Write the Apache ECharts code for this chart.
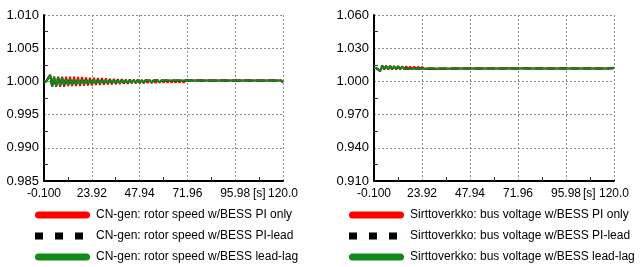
<!DOCTYPE html>
<html><head><meta charset="utf-8">
<script src="https://cdn.jsdelivr.net/npm/echarts@6/dist/echarts.min.js"></script>
<style>html,body{margin:0;padding:0;background:#fff}#c{width:642px;height:267px}</style>
</head><body><div id="c"></div>
<script>
// time samples [s]
const TIME = [-0.1,0,1,2,3,4,5,6,7,8,9,10,11,12,13,14,15,16,17,18,19,20,
21,22,23,24,25,26,27,28,29,30,31,32,33,34,35,36,37,38,39,40,
41,42,43,44,45,46,47,48,49,50,51,52,53,54,55,56,57,58,59,60,
61,62,63,64,65,66,67,68,69,70,71,72,73,74,75,76,77,78,79,80,
81,82,83,84,85,86,87,88,89,90,91,92,93,94,95,96,97,98,99,100,
101,102,103,104,105,106,107,108,109,110,111,112,113,114,115,116,117,118,119,120];

const X_TICK_LABELS = ['-0.100','23.92','47.94','71.96','95.98','120.0'];
const LEFT_Y_TICK_LABELS = ['0.985','0.990','0.995','1.000','1.005','1.010'];
const RIGHT_Y_TICK_LABELS = ['0.910','0.940','0.970','1.000','1.030','1.060'];

const LEFT_NAMES = ['CN-gen: rotor speed w/BESS PI only','CN-gen: rotor speed w/BESS PI-lead','CN-gen: rotor speed w/BESS lead-lag'];
const RIGHT_NAMES = ['Sirttoverkko: bus voltage w/BESS PI only','Sirttoverkko: bus voltage w/BESS PI-lead','Sirttoverkko: bus voltage w/BESS lead-lag'];

// Left: CN-gen rotor speed
const LEFT_PI_ONLY = [1.0000,1.0000,1.0000,1.0000,
1.0010,0.9992,1.0007,0.9992,1.0007,0.9992,1.0007,0.9992,1.0007,0.9993,1.0007,0.9993,1.0007,0.9993,1.00065,0.9993,1.00065,0.99935,
1.0006,0.9994,1.00055,0.9994,1.00055,0.99945,1.0005,0.99945,1.0005,0.9995,
1.00045,0.99955,1.0004,0.99955,1.0004,0.9996,1.00035,0.9996,1.00035,0.99965,
1.0003,0.99965,1.0003,0.9997,1.0003,0.9997,1.00025,0.9997,1.00025,0.99975,
1.00025,0.99975,1.00025,0.99975,1.0002,0.99975,1.0002,0.9998,1.0002,0.9998,
1.0002,0.9998,1.0002,0.9998,1.0002,0.9998,1.0002,0.9998,1.0002,0.9998,
1.00015,0.99985,1.00014,0.99986,1.00015,0.99985,1.00015,0.99985,1.00014,0.99986,
1.00015,0.99985,1.00015,0.99985,1.00015,0.99985,1.00014,0.99986,1.00015,0.99985,
1.00015,0.99985,1.00015,0.99985,1.00014,0.99986,1.00015,0.99985,1.00015,0.99985,
1.00015,0.99985,1.00014,0.99986,1.00015,0.99985,1.00015,0.99985,1.00015,0.99985,
1.00015,0.99985,1.00015,0.99985,1.00014,0.99986,1.00015,0.99985,1.00015,0.99985];
const LEFT_LEAD_LAG = [1.0000,1.0000,1.0000,1.0000,
1.0010,0.9992,1.0007,0.9993,1.0006,0.9994,1.0005,0.9994,1.0004,0.9995,1.0004,0.9995,1.0003,0.9996,1.0003,0.9996,1.0003,0.9996,
1.00025,0.99965,1.00025,0.99965,1.00025,0.9997,1.00025,0.9997,1.0002,0.9997,
1.0002,0.99975,1.0002,0.99975,1.0002,0.99975,1.0002,0.99975,1.0002,0.99975,
1.0002,0.9998,1.0002,0.9998,1.0002,0.9998,1.0002,0.9998,1.00015,0.9998,
1.00015,0.99985,1.00016,0.99984,1.00015,0.99985,1.00016,0.99984,1.00015,0.99985,
1.00015,0.99985,1.00015,0.99985,1.00014,0.99986,1.00015,0.99985,1.00015,0.99985,
1.00015,0.99985,1.00014,0.99986,1.00015,0.99985,1.00015,0.99985,1.00014,0.99986,
1.00015,0.99985,1.00015,0.99985,1.00015,0.99985,1.00014,0.99986,1.00015,0.99985,
1.00015,0.99985,1.00015,0.99985,1.00014,0.99986,1.00015,0.99985,1.00015,0.99985,
1.00015,0.99985,1.00014,0.99986,1.00015,0.99985,1.00015,0.99985,1.00015,0.99985,
1.00015,0.99985,1.00015,0.99985,1.00014,0.99986,1.00015,0.99985,1.00015,0.99985];
const LEFT_PI_LEAD = LEFT_LEAD_LAG.slice();

// Right: Sirttoverkko bus voltage
const RIGHT_PI_ONLY = [1.0120,1.0120,1.0120,1.0120,
1.0095,1.0142,1.0108,1.0141,1.0108,1.0140,1.0108,1.0138,1.0109,1.0137,1.0109,1.0136,1.0110,1.0135,1.0110,1.0134,1.0111,1.0133,
1.0111,1.0132,1.0112,1.0131,1.0112,1.0130,1.0113,1.0130,1.0113,1.0129,
1.0113,1.0129,1.0114,1.0128,1.0114,1.0128,1.0115,1.0127,1.0115,1.0127,
1.0116,1.0126,1.0116,1.0126,1.0116,1.0126,1.0117,1.0125,1.0117,1.0125,
1.0117,1.0125,1.0117,1.0124,1.0117,1.0124,1.0117,1.0124,1.0117,1.0124,
1.0117,1.0123,1.0117,1.0123,1.0117,1.0123,1.0118,1.0123,1.0117,1.0123,
1.0117,1.0123,1.0117,1.0123,1.0118,1.0123,1.0117,1.0123,1.0117,1.0123,
1.0117,1.0123,1.0118,1.0123,1.0117,1.0123,1.0117,1.0123,1.0117,1.0122,
1.0117,1.0123,1.0117,1.0123,1.0118,1.0123,1.0117,1.0123,1.0117,1.0123,
1.0117,1.0123,1.0117,1.0122,1.0117,1.0123,1.0118,1.0123,1.0117,1.0123,
1.0117,1.0123,1.0117,1.0123,1.0117,1.0122,1.0117,1.0123,1.0118,1.0123];
const RIGHT_LEAD_LAG = [1.0120,1.0120,1.0120,1.0120,
1.0095,1.0142,1.0112,1.0140,1.0112,1.0138,1.0113,1.0136,1.0114,1.0135,1.0114,1.0134,1.0115,1.0133,1.0115,1.0132,1.0115,1.0131,
1.0115,1.0130,1.0116,1.0130,1.0116,1.0129,1.0116,1.0129,1.0116,1.0128,
1.0116,1.0128,1.0117,1.0127,1.0117,1.0127,1.0117,1.0127,1.0117,1.0126,
1.0117,1.0126,1.0117,1.0126,1.0117,1.0126,1.0117,1.0125,1.0117,1.0125,
1.0117,1.0125,1.0117,1.0124,1.0117,1.0124,1.0117,1.0124,1.0117,1.0124,
1.0117,1.0123,1.0117,1.0123,1.0117,1.0123,1.0118,1.0123,1.0117,1.0123,
1.0117,1.0123,1.0117,1.0123,1.0118,1.0123,1.0117,1.0123,1.0117,1.0123,
1.0117,1.0123,1.0118,1.0123,1.0117,1.0123,1.0117,1.0123,1.0117,1.0122,
1.0117,1.0123,1.0117,1.0123,1.0118,1.0123,1.0117,1.0123,1.0117,1.0123,
1.0117,1.0123,1.0117,1.0122,1.0117,1.0123,1.0118,1.0123,1.0117,1.0123,
1.0117,1.0123,1.0117,1.0123,1.0117,1.0122,1.0117,1.0123,1.0118,1.0123];
const RIGHT_PI_LEAD = RIGHT_LEAD_LAG.slice();

const COLORS = ['#ff0000','#000000','#118a1a'];
const FONT = 'Liberation Sans, Arial, sans-serif';

const X_START = -0.1, X_STEP = 24.02;
const L_BASE = 0.985, L_STEP = 0.005;
const R_BASE = 0.910, R_STEP = 0.030;

function pts(vals, base) { return TIME.map((t, i) => [t - X_START, vals[i] - base]); }

const CAPSULE = 'path://M3.5,0L51.5,0A3.5,3.5,0,0,1,51.5,7L3.5,7A3.5,3.5,0,0,1,3.5,0Z';
const SQUARES = 'path://M0,0h8v7h-8zM20,0h8v7h-8zM40,0h8v7h-8zM54.99,0h0.01v7h-0.01z';
const ICONS = [CAPSULE, SQUARES, CAPSULE];

const TICK = { show: true, inside: true, length: 0.01, lineStyle: { color: 'rgba(0,0,0,0)', width: 0 } };
const MINOR = { show: true, splitNumber: 2, length: 4, lineStyle: { color: '#333', width: 1 } };
const SPLIT = { show: true, lineStyle: { color: '#8a8a8a', width: 1, type: [2, 2] } };

function xAxis(gi) {
  return {
    type: 'value', gridIndex: gi, min: 0, max: 120.1, interval: X_STEP,
    axisLine: { show: true, onZero: false, lineStyle: { color: '#000', width: 2 } },
    axisTick: TICK, minorTick: MINOR, splitLine: SPLIT,
    axisLabel: { color: '#000', fontFamily: FONT, fontSize: 12, margin: 7,
      formatter: v => X_TICK_LABELS[Math.round(v / X_STEP)] }
  };
}
function yAxis(gi, step, labels) {
  return {
    type: 'value', gridIndex: gi, min: 0, max: step * 5, interval: step,
    axisLine: { show: true, lineStyle: { color: '#000', width: 2 } },
    axisTick: TICK, minorTick: MINOR, splitLine: SPLIT,
    axisLabel: { color: '#000', fontFamily: FONT, fontSize: 13, margin: 5, inside: false,
      formatter: v => labels[Math.round(v / step)] }
  };
}
function series(name, vals, base, idx, gi) {
  return {
    name, type: 'line', xAxisIndex: gi, yAxisIndex: gi, data: pts(vals, base),
    showSymbol: false, symbol: 'none', animation: false, silent: true,
    lineStyle: { color: COLORS[idx], width: 2, type: idx === 1 ? 'dashed' : 'solid' },
    itemStyle: { color: COLORS[idx] }, z: 2 + idx
  };
}
function legend(names, left) {
  return {
    orient: 'vertical', left: left, top: 209, itemWidth: 55, itemHeight: 7, itemGap: 9,
    padding: 0, height: 60,
    selectedMode: false, symbolKeepAspect: false,
    textStyle: { color: '#000', fontFamily: FONT, fontSize: 12, padding: [0, 0, 0, 1] },
    data: names.map((n, i) => ({ name: n, icon: ICONS[i], itemStyle: { color: COLORS[i], borderWidth: 0 } }))
  };
}

const chart = echarts.init(document.getElementById('c'), null, { renderer: 'canvas' });
chart.setOption({
  animation: false,
  backgroundColor: '#fff',
  grid: [
    { left: 44, right: 359, top: 15, bottom: 86 },
    { left: 374, right: 28, top: 15, bottom: 86 }
  ],
  xAxis: [xAxis(0), xAxis(1)],
  yAxis: [yAxis(0, L_STEP, LEFT_Y_TICK_LABELS), yAxis(1, R_STEP, RIGHT_Y_TICK_LABELS)],
  legend: [legend(LEFT_NAMES, 35), legend(RIGHT_NAMES, 349)],
  graphic: [
    { type: 'text', left: 253, top: 188, style: { text: '[s]', fill: '#000', font: '12px ' + FONT } },
    { type: 'text', left: 583, top: 188, style: { text: '[s]', fill: '#000', font: '12px ' + FONT } }
  ],
  series: [
    series(LEFT_NAMES[0], LEFT_PI_ONLY, L_BASE, 0, 0),
    series(LEFT_NAMES[1], LEFT_PI_LEAD, L_BASE, 1, 0),
    series(LEFT_NAMES[2], LEFT_LEAD_LAG, L_BASE, 2, 0),
    series(RIGHT_NAMES[0], RIGHT_PI_ONLY, R_BASE, 0, 1),
    series(RIGHT_NAMES[1], RIGHT_PI_LEAD, R_BASE, 1, 1),
    series(RIGHT_NAMES[2], RIGHT_LEAD_LAG, R_BASE, 2, 1)
  ]
});
</script></body></html>
